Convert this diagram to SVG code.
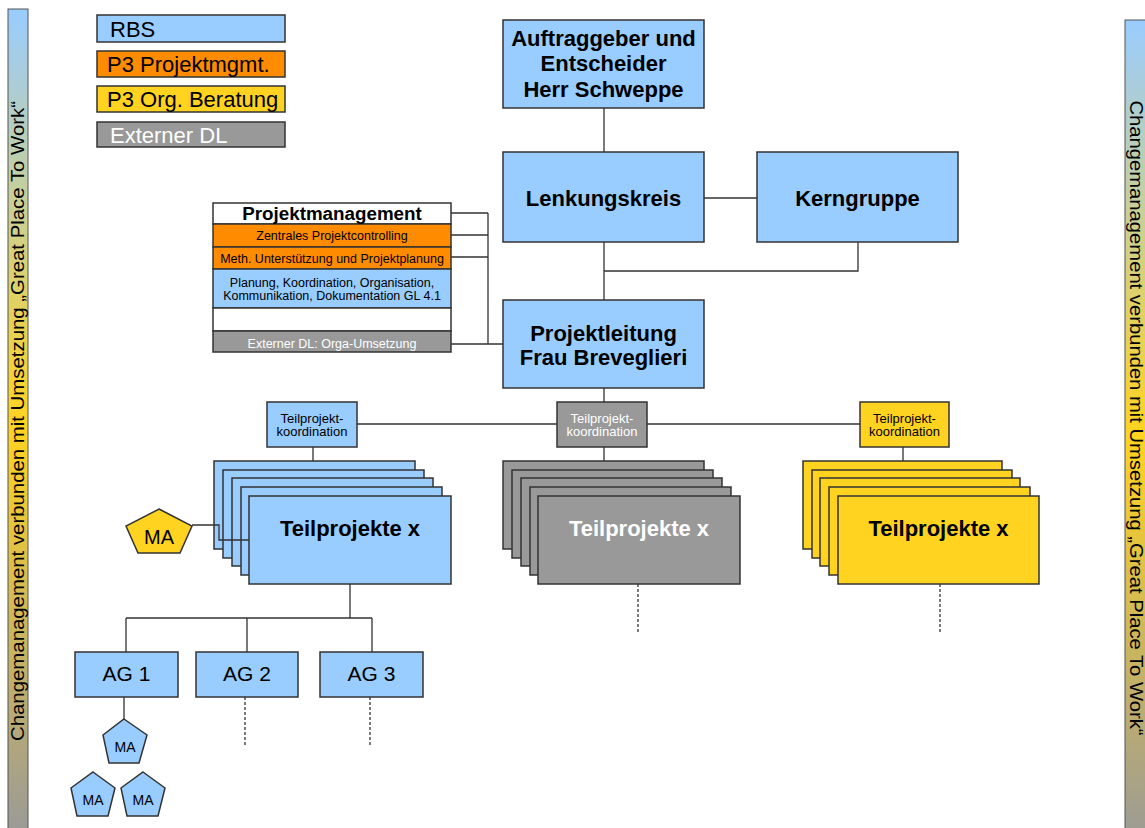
<svg xmlns="http://www.w3.org/2000/svg" width="1145" height="828" viewBox="0 0 1145 828">
<defs>
<linearGradient id="barGrad" x1="0" y1="0" x2="0" y2="1">
<stop offset="0" stop-color="#99CCFF"/>
<stop offset="0.5" stop-color="#FFD320"/>
<stop offset="1" stop-color="#999999"/>
</linearGradient>
<style>
text{font-family:"Liberation Sans",Arial,sans-serif;fill:#000}
.b{fill:#99CCFF;stroke:#333;stroke-width:1.5}
.o{fill:#FF8C00;stroke:#333;stroke-width:1.5}
.y{fill:#FFD320;stroke:#333;stroke-width:1.5}
.g{fill:#999999;stroke:#333;stroke-width:1.5}
.w{fill:#FFFFFF;stroke:#333;stroke-width:1.5}
.bar{fill:url(#barGrad);stroke:#555;stroke-width:1}
.ln{stroke:#333;stroke-width:1.3;fill:none}
.dash{stroke-dasharray:3 2}
.big{font-size:22px;font-weight:bold;text-anchor:middle}
.leg{font-size:22px}
.small{font-size:13px;text-anchor:middle}
.row{font-size:12.5px;text-anchor:middle}
.ag{font-size:21px;text-anchor:middle}
.wt{fill:#FFFFFF}
.side{font-size:19px}
</style>
</defs>
<rect width="1145" height="828" fill="#FFFFFF"/>

<g id="leftbar">
<rect class="bar" x="8" y="9" width="20" height="830"/>
<text class="side" transform="translate(24,421) rotate(-90)" text-anchor="middle" textLength="640" lengthAdjust="spacingAndGlyphs">Changemanagement verbunden mit Umsetzung „Great Place To Work“</text>
</g>
<g id="rightbar">
<rect class="bar" x="1125" y="20" width="30" height="830"/>
<text class="side" transform="translate(1130,418) rotate(90)" text-anchor="middle" textLength="635" lengthAdjust="spacingAndGlyphs">Changemanagement verbunden mit Umsetzung „Great Place To Work“</text>
</g>

<g id="legend-rbs"><rect class="b" x="97" y="15" width="188" height="27"/><text class="leg" x="110" y="36.5">RBS</text></g>
<g id="legend-p3pm"><rect class="o" x="97" y="51" width="188" height="26"/><text class="leg" x="107" y="71.5">P3 Projektmgmt.</text></g>
<g id="legend-p3org"><rect class="y" x="97" y="86" width="188" height="26"/><text class="leg" x="107" y="106.5">P3 Org. Beratung</text></g>
<g id="legend-ext"><rect class="g" x="97" y="122" width="188" height="25"/><text class="leg wt" x="110" y="142.5">Externer DL</text></g>

<g id="auftraggeber"><rect class="b" x="503" y="20" width="201" height="88"/>
<text class="big" x="603.5" y="46">Auftraggeber und</text>
<text class="big" x="603.5" y="71">Entscheider</text>
<text class="big" x="603.5" y="96.5">Herr Schweppe</text></g>

<g id="lenkungskreis"><rect class="b" x="503" y="152" width="201" height="90"/><text class="big" x="603.5" y="205.5">Lenkungskreis</text></g>
<g id="kerngruppe"><rect class="b" x="757" y="152" width="201" height="90"/><text class="big" x="857.5" y="205.5">Kerngruppe</text></g>

<g id="projektleitung"><rect class="b" x="503" y="300" width="201" height="88"/>
<text class="big" x="603.5" y="341">Projektleitung</text>
<text class="big" x="603.5" y="365">Frau Breveglieri</text></g>

<g id="projektmanagement">
<rect class="w" x="213" y="203" width="238" height="21"/>
<rect class="o" x="213" y="224" width="238" height="23"/>
<rect class="o" x="213" y="247" width="238" height="22"/>
<rect class="b" x="213" y="269" width="238" height="39"/>
<rect class="w" x="213" y="308" width="238" height="23"/>
<rect class="g" x="213" y="331" width="238" height="21"/>
<text x="332" y="220" font-size="18.8" font-weight="bold" text-anchor="middle">Projektmanagement</text>
<text class="row" x="332" y="240">Zentrales Projektcontrolling</text>
<text class="row" x="332" y="262.5">Meth. Unterstützung und Projektplanung</text>
<text class="row" x="332" y="286.5">Planung, Koordination, Organisation,</text>
<text class="row" x="332" y="299.5">Kommunikation, Dokumentation GL 4.1</text>
<text class="row wt" x="332" y="347.5">Externer DL: Orga-Umsetzung</text>
</g>

<g id="tpk-blue"><rect class="b" x="267" y="402" width="90" height="45"/><text class="small" x="312" y="422.5">Teilprojekt-</text><text class="small" x="312" y="436">koordination</text></g>
<g id="tpk-grey"><rect class="g" x="557" y="402" width="90" height="45"/><text class="small wt" x="602" y="422.5">Teilprojekt-</text><text class="small wt" x="602" y="436">koordination</text></g>
<g id="tpk-yellow"><rect class="y" x="860" y="402" width="89" height="45"/><text class="small" x="904.5" y="422.5">Teilprojekt-</text><text class="small" x="904.5" y="436">koordination</text></g>

<g id="tp-blue">
<rect class="b" x="214" y="461" width="201" height="88"/>
<rect class="b" x="223" y="470" width="201" height="88"/>
<rect class="b" x="232" y="478" width="201" height="88"/>
<rect class="b" x="241" y="487" width="201" height="88"/>
<rect class="b" x="249" y="496" width="202" height="88"/>
<text class="big" x="350" y="536">Teilprojekte x</text>
</g>
<g id="tp-grey">
<rect class="g" x="503" y="461" width="201" height="88"/>
<rect class="g" x="512" y="470" width="201" height="88"/>
<rect class="g" x="521" y="478" width="201" height="88"/>
<rect class="g" x="530" y="487" width="201" height="88"/>
<rect class="g" x="538" y="496" width="202" height="88"/>
<text class="big wt" x="639" y="536">Teilprojekte x</text>
</g>
<g id="tp-yellow">
<rect class="y" x="803" y="461" width="199" height="88"/>
<rect class="y" x="812" y="470" width="200" height="88"/>
<rect class="y" x="820" y="478" width="200" height="88"/>
<rect class="y" x="829" y="487" width="201" height="88"/>
<rect class="y" x="838" y="496" width="201" height="88"/>
<text class="big" x="938.5" y="536">Teilprojekte x</text>
</g>

<g id="ma-yellow"><polygon class="y" points="159,509 192,526 180,553 138,553 126,526"/><text x="159" y="544" font-size="20" text-anchor="middle">MA</text></g>

<g id="ag1"><rect class="b" x="75" y="652" width="103" height="45"/><text class="ag" x="126.5" y="680.5">AG 1</text></g>
<g id="ag2"><rect class="b" x="196" y="652" width="102" height="45"/><text class="ag" x="247" y="680.5">AG 2</text></g>
<g id="ag3"><rect class="b" x="320" y="652" width="103" height="45"/><text class="ag" x="371.5" y="680.5">AG 3</text></g>

<g id="ma1"><polygon class="b" points="124,719 147,735 139,763 109,763 103,735"/><text x="125" y="752" font-size="14" text-anchor="middle">MA</text></g>
<g id="ma2"><polygon class="b" points="93,772 115,788 108,816 77,816 71,788"/><text x="93" y="805" font-size="14" text-anchor="middle">MA</text></g>
<g id="ma3"><polygon class="b" points="143,772 165,788 158,816 127,816 121,788"/><text x="143" y="805" font-size="14" text-anchor="middle">MA</text></g>

<g id="connectors" class="ln">
<path d="M604,108V152"/>
<path d="M704,198H757"/>
<path d="M604,242V300"/>
<path d="M858,242V271H604"/>
<path d="M451,213H488M451,235H488M451,257H488M488,213V344M451,344H503"/>
<path d="M604,388V402"/>
<path d="M357,424H557M647,424H860"/>
<path d="M313,447V461M604,447V461M903,447V461"/>
<path d="M192,525H219V540H249"/>
<path d="M350,584V618M126,618H372M126,618V652M247,618V652M372,618V652"/>
<path d="M124,697V719"/>
<path class="dash" d="M245,697V745M370,697V745M638,584V633M940,584V633"/>
</g>
</svg>
